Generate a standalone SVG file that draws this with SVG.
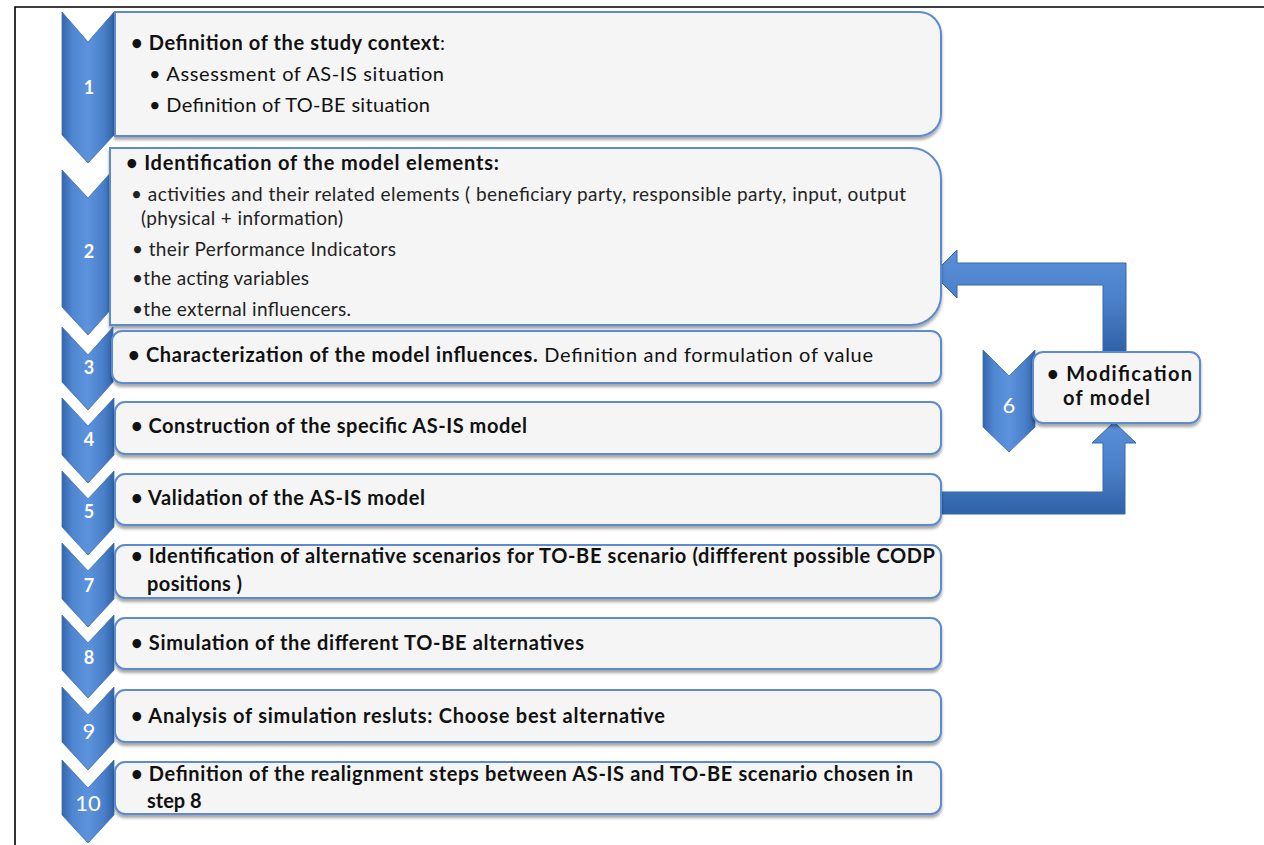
<svg xmlns="http://www.w3.org/2000/svg" width="1264" height="845" viewBox="0 0 1264 845">
<defs>
<linearGradient id="chev" x1="0" y1="0" x2="1" y2="0">
<stop offset="0" stop-color="#3466ad"/>
<stop offset="0.2" stop-color="#4f86d0"/>
<stop offset="0.5" stop-color="#5c93dc"/>
<stop offset="0.8" stop-color="#4a80c9"/>
<stop offset="1" stop-color="#3064aa"/>
</linearGradient>
<linearGradient id="barH" x1="0" y1="0" x2="0" y2="1">
<stop offset="0" stop-color="#5a90d8"/>
<stop offset="0.5" stop-color="#4a80c9"/>
<stop offset="1" stop-color="#2f62a6"/>
</linearGradient>
<filter id="sh" x="-5%" y="-20%" width="110%" height="150%">
<feDropShadow dx="0" dy="3" stdDeviation="1.8" flood-color="#000" flood-opacity="0.35"/>
</filter>
</defs>
<style>
.box{fill:#f5f5f5;stroke:#5b8bd0;stroke-width:2;filter:url(#sh)}
.chev{fill:url(#chev);stroke:#3a6db3;stroke-width:0.8}
.arrow{fill:url(#barH);stroke:#3466ad;stroke-width:1}
.t{font-family:Lato,"Liberation Sans",sans-serif;font-size:20px;fill:#111}
.s{font-size:19px;fill:#222}
.b{font-weight:bold}
.num{font-family:Lato,"Liberation Sans",sans-serif;font-size:18px;font-weight:bold;fill:#fff;text-anchor:middle}
.numr{font-family:Lato,"Liberation Sans",sans-serif;font-size:22px;fill:#fff;text-anchor:middle}
.frame{stroke:#000;stroke-width:1.6;fill:none}
</style>
<rect x="0" y="0" width="1264" height="845" fill="#fff"/>
<path class="frame" d="M15,845 L15,7 L1264,7"/>

<g id="connectors">
<path class="arrow" d="M1103,352 L1103,285 L957,285 L957,298 L933,274 L957,250 L957,263 L1126,263 L1126,352 Z"/>
<path class="arrow" d="M932,492 L1103,492 L1103,443 L1092,443 L1114,422 L1136,443 L1125,443 L1125,514 L932,514 Z"/>
</g>

<g id="step1">
<path class="chev" d="M62,12 L88,42 L114,12 L114,135 L88,163 L62,135 Z"/>
<path class="box" d="M115,12 H919 A22,22 0 0 1 941,34 V114 A22,22 0 0 1 919,136 H115 Z"/>
<text class="num" x="89" y="94">1</text>
<text class="t" x="131" y="50" textLength="314"><tspan class="b">• Definition of the study context</tspan>:</text>
<text class="t" x="149" y="81" textLength="295">•  Assessment of AS-IS situation</text>
<text class="t" x="149" y="112" textLength="281">• Definition of TO-BE situation</text>
</g>

<g id="step2">
<path class="chev" d="M62,170 L88,198 L113,170 L113,307 L88,335 L62,307 Z"/>
<path class="box" d="M110,148 H911 A30,30 0 0 1 941,178 V295 A30,30 0 0 1 911,325 H110 Z"/>
<text class="num" x="89" y="258">2</text>
<text class="t b" x="126" y="170" textLength="373">• Identification of the model elements:</text>
<text class="t s" x="131" y="201" textLength="775">• activities and their related elements ( beneficiary party, responsible party, input, output</text>
<text class="t s" x="141" y="225" textLength="202">(physical + information)</text>
<text class="t s" x="132" y="256" textLength="264">• their Performance Indicators</text>
<text class="t s" x="132" y="285" textLength="177">•the acting variables</text>
<text class="t s" x="132" y="316" textLength="219">•the external influencers.</text>
</g>

<g id="step3">
<path class="chev" d="M62,327 L88,355 L113,327 L113,382 L88,410 L62,382 Z"/>
<rect class="box" x="112" y="331" width="829" height="52" rx="10"/>
<text class="num" x="89" y="374">3</text>
<text class="t" x="128" y="362" textLength="745"><tspan class="b">• Characterization of the model influences.</tspan> Definition and formulation of value</text>
</g>

<g id="step4">
<path class="chev" d="M62,398 L88,426 L114,398 L114,455 L88,483 L62,455 Z"/>
<rect class="box" x="115" y="402" width="826" height="52" rx="10"/>
<text class="num" x="89" y="446">4</text>
<text class="t b" x="131" y="433" textLength="396">• Construction of the specific AS-IS model</text>
</g>

<g id="step5">
<path class="chev" d="M62,471 L88,499 L114,471 L114,527 L88,555 L62,527 Z"/>
<rect class="box" x="115" y="474" width="826" height="51" rx="10"/>
<text class="num" x="89" y="518">5</text>
<text class="t b" x="131" y="505" textLength="294">• Validation of the AS-IS model</text>
</g>

<g id="step6">
<path class="chev" d="M983,350 L1009,376 L1035,350 L1035,427 L1009,452 L983,427 Z"/>
<rect class="box" x="1033" y="352" width="167" height="71" rx="10"/>
<text class="numr" x="1009" y="413">6</text>
<text class="t b" x="1047" y="381" textLength="145">• Modification</text>
<text class="t b" x="1063" y="405" textLength="87">of model</text>
</g>

<g id="step7">
<path class="chev" d="M62,543 L88,571 L114,543 L114,599 L88,627 L62,599 Z"/>
<rect class="box" x="115" y="545" width="826" height="53" rx="10"/>
<text class="num" x="89" y="592">7</text>
<text class="t b" x="131" y="563" textLength="804">• Identification of alternative scenarios for TO-BE scenario (diffferent possible CODP</text>
<text class="t b" x="147" y="591" textLength="95">positions )</text>
</g>

<g id="step8">
<path class="chev" d="M62,615 L88,643 L114,615 L114,670 L88,698 L62,670 Z"/>
<rect class="box" x="115" y="618" width="826" height="51" rx="10"/>
<text class="num" x="89" y="664">8</text>
<text class="t b" x="131" y="650" textLength="453">• Simulation of the different TO-BE alternatives</text>
</g>

<g id="step9">
<path class="chev" d="M62,687 L88,715 L114,687 L114,742 L88,770 L62,742 Z"/>
<rect class="box" x="115" y="690" width="826" height="52" rx="10"/>
<text class="numr" x="89" y="739">9</text>
<text class="t b" x="131" y="723" textLength="534">• Analysis of simulation resluts: Choose best alternative</text>
</g>

<g id="step10">
<path class="chev" d="M62,760 L88,788 L114,760 L114,815 L88,843 L62,815 Z"/>
<rect class="box" x="115" y="762" width="826" height="52" rx="10"/>
<text class="numr" x="88" y="811">10</text>
<text class="t b" x="131" y="781" textLength="782">• Definition of the realignment steps between AS-IS and TO-BE scenario chosen in</text>
<text class="t b" x="147" y="808">step 8</text>
</g>
</svg>
